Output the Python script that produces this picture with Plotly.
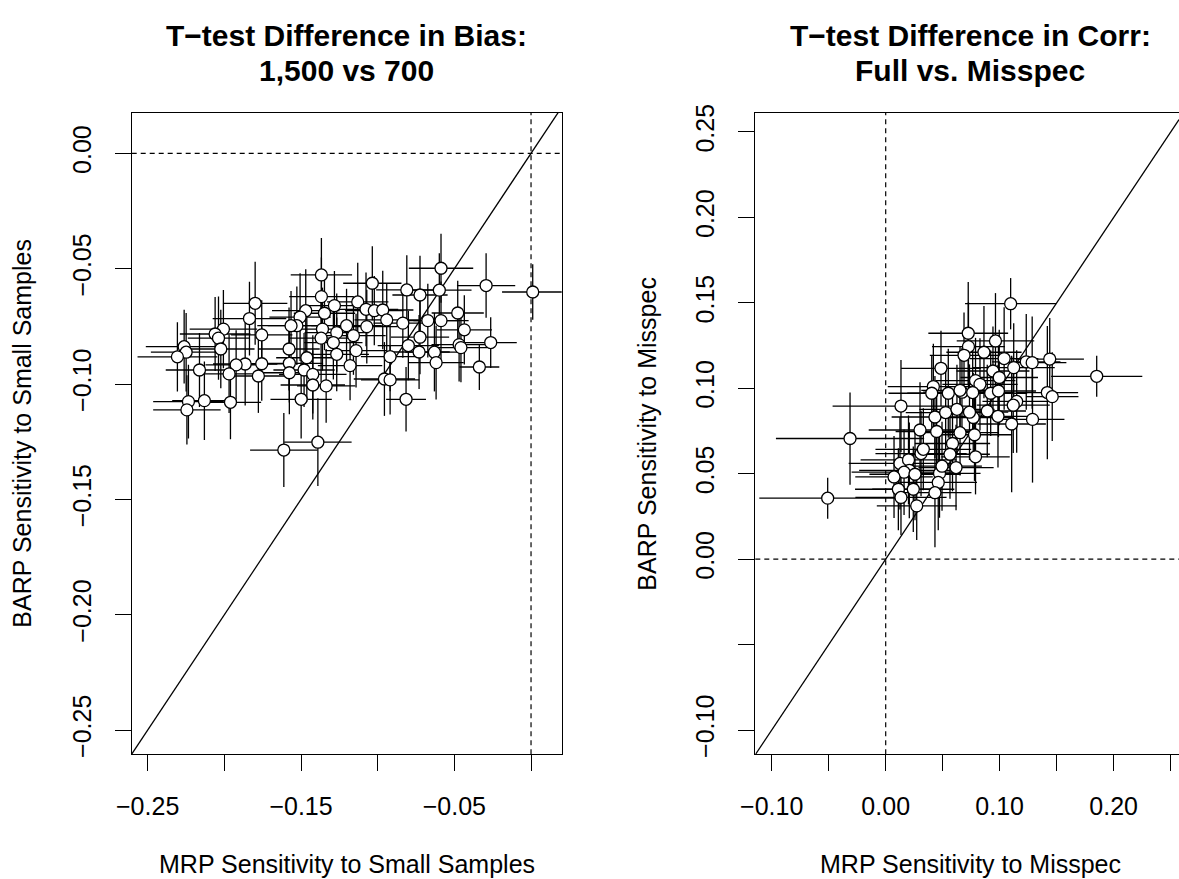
import plotly.graph_objects as go

# ---- Panel 1: T-test difference in bias, 1,500 vs 700 ----
bias_mrp = [
    -0.1367, -0.1367, -0.1282, -0.1469, -0.1347, -0.1799, -0.1836, -0.1506, -0.1527, -0.1565,
    -0.1203, -0.1360, -0.1267, -0.1756, -0.2006, -0.2060, -0.2038, -0.1369, -0.1289, -0.2023,
    -0.1578, -0.2262, -0.2249, -0.2306, -0.1267, -0.1462, -0.1576, -0.1756, -0.1864, -0.1923,
    -0.2162, -0.1969, -0.1778, -0.1576, -0.1480, -0.1423, -0.1423, -0.1336, -0.1499, -0.2234,
    -0.2244, -0.2130, -0.1960, -0.1612, -0.1390, -0.0587, -0.0293, 0.0011, -0.1035, -0.0810,
    -0.0724, -0.0598, -0.1130, -0.1076, -0.1022, -0.0967, -0.0941, -0.0836, -0.0673, -0.0587,
    -0.0478, -0.0435, -0.1071, -0.1158, -0.0724, -0.0800, -0.0469, -0.0457, -0.0263, -0.1141,
    -0.0919, -0.0730, -0.0630, -0.0619, -0.1180, -0.0337, -0.0956, -0.0919, -0.0815,
]
bias_barp = [
    -0.0527, -0.0621, -0.0660, -0.0682, -0.0693, -0.0650, -0.0716, -0.0710, -0.0747, -0.0747,
    -0.0747, -0.0762, -0.0777, -0.0787, -0.0762, -0.0783, -0.0801, -0.0801, -0.0820, -0.0848,
    -0.0848, -0.0838, -0.0862, -0.0882, -0.0871, -0.0886, -0.0910, -0.0912, -0.0913, -0.0917,
    -0.0939, -0.0956, -0.0965, -0.0951, -0.0939, -0.0958, -0.1004, -0.1008, -0.1066, -0.1076,
    -0.1112, -0.1072, -0.1079, -0.1286, -0.1252, -0.0498, -0.0573, -0.0601, -0.0563, -0.0592,
    -0.0614, -0.0593, -0.0644, -0.0676, -0.0682, -0.0679, -0.0722, -0.0736, -0.0725, -0.0725,
    -0.0692, -0.0765, -0.0751, -0.0790, -0.0797, -0.0833, -0.0829, -0.0842, -0.0820, -0.0855,
    -0.0881, -0.0861, -0.0862, -0.0907, -0.0920, -0.0926, -0.0978, -0.0982, -0.1066,
]
bias_mrp_err = [
    0.020, 0.021, 0.018, 0.022, 0.020, 0.021, 0.024, 0.020, 0.019, 0.022,
    0.023, 0.019, 0.021, 0.020, 0.022, 0.023, 0.020, 0.021, 0.019, 0.022,
    0.020, 0.025, 0.023, 0.026, 0.021, 0.020, 0.022, 0.019, 0.021, 0.020,
    0.022, 0.021, 0.020, 0.019, 0.020, 0.022, 0.021, 0.019, 0.020, 0.023,
    0.022, 0.021, 0.020, 0.022, 0.022, 0.021, 0.019, 0.020, 0.019, 0.020,
    0.018, 0.021, 0.020, 0.021, 0.019, 0.020, 0.021, 0.019, 0.020, 0.018,
    0.017, 0.018, 0.020, 0.021, 0.019, 0.020, 0.018, 0.017, 0.017, 0.020,
    0.019, 0.020, 0.019, 0.018, 0.021, 0.013, 0.020, 0.019, 0.013,
]
bias_barp_err = [
    0.016, 0.017, 0.015, 0.018, 0.016, 0.018, 0.016, 0.019, 0.017, 0.015,
    0.016, 0.018, 0.017, 0.015, 0.017, 0.016, 0.018, 0.019, 0.016, 0.017,
    0.018, 0.016, 0.017, 0.015, 0.016, 0.019, 0.017, 0.016, 0.018, 0.015,
    0.016, 0.017, 0.016, 0.018, 0.016, 0.017, 0.015, 0.016, 0.017, 0.016,
    0.015, 0.017, 0.016, 0.016, 0.019, 0.015, 0.014, 0.012, 0.016, 0.015,
    0.017, 0.016, 0.017, 0.016, 0.015, 0.017, 0.016, 0.015, 0.016, 0.017,
    0.014, 0.015, 0.016, 0.017, 0.016, 0.015, 0.016, 0.015, 0.011, 0.016,
    0.015, 0.016, 0.017, 0.016, 0.015, 0.010, 0.016, 0.015, 0.014,
]

# ---- Panel 2: T-test difference in correlation, full vs. misspecified ----
corr_mrp = [
    0.0485, 0.0418, 0.0404, 0.0549, 0.0134, -0.0313, -0.0509, 0.0432, 0.0526, 0.0625,
    0.0301, 0.0447, 0.0652, 0.0586, 0.0564, 0.0310, 0.0330, 0.0125, 0.0200, 0.0207,
    0.0161, 0.0257, 0.0073, 0.0472, 0.0461, 0.0617, 0.0111, 0.0242, 0.0134, 0.0432,
    0.0272, 0.1096, 0.0724, 0.0726, 0.0687, 0.0963, 0.0862, 0.1039, 0.1123, 0.1233,
    0.1285, 0.1439, 0.1851, 0.0941, 0.0996, 0.0788, 0.0827, 0.0669, 0.0763, 0.0921,
    0.0989, 0.1418, 0.1461, 0.1149, 0.1119, 0.0891, 0.0985, 0.0768, 0.0735, 0.1288,
    0.1105, 0.0779, 0.0788, 0.0652, 0.0494,
]
corr_barp = [
    0.1117, 0.1010, 0.0971, 0.0971, 0.0896, 0.0706, 0.0357, 0.0832, 0.0858, 0.0877,
    0.0756, 0.0747, 0.0740, 0.0677, 0.0614, 0.0618, 0.0643, 0.0560, 0.0581, 0.0520,
    0.0509, 0.0497, 0.0481, 0.0502, 0.0449, 0.0536, 0.0409, 0.0409, 0.0361, 0.0389,
    0.0312, 0.1495, 0.1322, 0.1244, 0.1193, 0.1277, 0.1211, 0.1174, 0.1121, 0.1155,
    0.1150, 0.1171, 0.1070, 0.1101, 0.1063, 0.1045, 0.1023, 0.0977, 0.0975, 0.0971,
    0.0984, 0.0975, 0.0951, 0.0923, 0.0901, 0.0867, 0.0836, 0.0829, 0.0860, 0.0818,
    0.0791, 0.0728, 0.0599, 0.0988, 0.0544,
]
corr_mrp_err = [
    0.035, 0.040, 0.038, 0.036, 0.060, 0.065, 0.060, 0.038, 0.035, 0.033,
    0.045, 0.036, 0.034, 0.033, 0.035, 0.040, 0.042, 0.045, 0.042, 0.044,
    0.046, 0.040, 0.034, 0.036, 0.034, 0.033, 0.038, 0.036, 0.040, 0.032,
    0.035, 0.040, 0.035, 0.032, 0.030, 0.034, 0.033, 0.030, 0.036, 0.030,
    0.030, 0.030, 0.040, 0.032, 0.034, 0.035, 0.033, 0.034, 0.036, 0.032,
    0.033, 0.027, 0.023, 0.030, 0.032, 0.034, 0.033, 0.035, 0.034, 0.028,
    0.030, 0.033, 0.030, 0.034, 0.035,
]
corr_barp_err = [
    0.022, 0.025, 0.022, 0.026, 0.027, 0.027, 0.012, 0.024, 0.025, 0.026,
    0.028, 0.024, 0.025, 0.028, 0.026, 0.025, 0.024, 0.027, 0.026, 0.028,
    0.025, 0.027, 0.024, 0.026, 0.028, 0.025, 0.024, 0.025, 0.022, 0.032,
    0.020, 0.015, 0.030, 0.026, 0.025, 0.028, 0.027, 0.030, 0.026, 0.028,
    0.027, 0.024, 0.012, 0.026, 0.028, 0.025, 0.027, 0.026, 0.028, 0.025,
    0.027, 0.039, 0.026, 0.030, 0.028, 0.027, 0.030, 0.026, 0.028, 0.037,
    0.040, 0.027, 0.022, 0.026, 0.026,
]

bias_ticks = [-0.25, -0.20, -0.15, -0.10, -0.05, 0.00]
bias_xtext = ["\u22120.25", "", "\u22120.15", "", "\u22120.05", ""]
bias_ytext = ["\u22120.25", "\u22120.20", "\u22120.15", "\u22120.10", "\u22120.05", "0.00"]
corr_ticks = [-0.10, -0.05, 0.00, 0.05, 0.10, 0.15, 0.20, 0.25]
corr_xtext = ["\u22120.10", "", "0.00", "", "0.10", "", "0.20", ""]
corr_ytext = ["\u22120.10", "", "0.00", "0.05", "0.10", "0.15", "0.20", "0.25"]

bias_xrange = [-0.2604, 0.0200]
bias_yrange = [-0.2605, 0.0175]
corr_xrange = [-0.1144, 0.2573]
corr_yrange = [-0.1142, 0.2611]

bias_title = ["T\u2212test Difference in Bias:", "1,500 vs 700"]
corr_title = ["T\u2212test Difference in Corr:", "Full vs. Misspec"]

FONT = "Liberation Sans, Arial, Helvetica, sans-serif"
INK = "black"
W, H = 1179, 879


def err(vals):
    return dict(type="data", array=vals, symmetric=True, color=INK,
                thickness=1.3, width=0)


marker = dict(size=12, color="white", line=dict(color=INK, width=1.3))

fig = go.Figure()
fig.add_trace(go.Scatter(
    x=bias_mrp, y=bias_barp, mode="markers", marker=marker,
    error_x=err(bias_mrp_err), error_y=err(bias_barp_err),
    xaxis="x", yaxis="y", showlegend=False, hoverinfo="skip"))
fig.add_trace(go.Scatter(
    x=corr_mrp, y=corr_barp, mode="markers", marker=marker,
    error_x=err(corr_mrp_err), error_y=err(corr_barp_err),
    xaxis="x2", yaxis="y2", showlegend=False, hoverinfo="skip"))

left_px = (131.7, 561.7)
right_px = (755.3, 1179.0)
top_px, bottom_px = 113.0, 754.3
ydom = [1 - bottom_px / H, 1 - top_px / H]

axis_common = dict(
    showline=True, linecolor=INK, linewidth=1.3,
    ticks="outside", ticklen=16, tickwidth=1.3, tickcolor=INK,
    showgrid=False, zeroline=False, automargin=False,
    tickfont=dict(family=FONT, size=25, color=INK),
)

fig.update_layout(
    width=W, height=H, autosize=False,
    margin=dict(l=0, r=0, t=0, b=0, autoexpand=False),
    paper_bgcolor="white", plot_bgcolor="white",
    xaxis=dict(domain=[left_px[0] / W, left_px[1] / W], range=bias_xrange,
               tickvals=bias_ticks, ticktext=bias_xtext, mirror=True,
               anchor="y", ticklabelstandoff=14, **axis_common),
    yaxis=dict(domain=ydom, range=bias_yrange, tickvals=bias_ticks,
               ticktext=bias_ytext, tickangle=-90, mirror=True,
               anchor="x", ticklabelstandoff=14, **axis_common),
    xaxis2=dict(domain=[right_px[0] / W, right_px[1] / W], range=corr_xrange,
                tickvals=corr_ticks, ticktext=corr_xtext, mirror=True,
                anchor="y2", ticklabelstandoff=14, **axis_common),
    yaxis2=dict(domain=ydom, range=corr_yrange, tickvals=corr_ticks,
                ticktext=corr_ytext, tickangle=-90, mirror=False,
                anchor="x2", ticklabelstandoff=14, **axis_common),
)

# reference lines: zero lines (dashed) and the 45-degree line
dash = "5px,4px"
shapes = []
for xa, ya, xr in (("x", "y", bias_xrange), ("x2", "y2", corr_xrange)):
    shapes.append(dict(type="line", xref=f"{xa} domain", yref=ya, x0=0, x1=1, y0=0, y1=0,
                       line=dict(color=INK, width=1.2, dash=dash), layer="below"))
    shapes.append(dict(type="line", xref=xa, yref=f"{ya} domain", x0=0, x1=0, y0=0, y1=1,
                       line=dict(color=INK, width=1.2, dash=dash), layer="below"))
    shapes.append(dict(type="line", xref=xa, yref=ya, x0=xr[0], y0=xr[0], x1=xr[1], y1=xr[1],
                       line=dict(color=INK, width=1.3), layer="below"))
fig.update_layout(shapes=shapes)

# titles and axis labels
cx_left = (left_px[0] + left_px[1]) / 2 / W
cx_right = (right_px[0] + 1185.0) / 2 / W
ymid = 1 - (top_px + bottom_px) / 2 / H
ann = []
for cx, lines in ((cx_left, bias_title), (cx_right, corr_title)):
    for line, ypx in zip(lines, (35, 70)):
        ann.append(dict(text=f"<b>{line}</b>", x=cx, y=1 - ypx / H, xref="paper", yref="paper",
                        showarrow=False, xanchor="center", yanchor="middle",
                        font=dict(family=FONT, size=30, color=INK)))
for cx, label in ((cx_left, "MRP Sensitivity to Small Samples"),
                  (cx_right, "MRP Sensitivity to Misspec")):
    ann.append(dict(text=label, x=cx, y=1 - 864 / H, xref="paper", yref="paper",
                    showarrow=False, xanchor="center", yanchor="middle",
                    font=dict(family=FONT, size=25, color=INK)))
for px, label in ((22, "BARP Sensitivity to Small Samples"),
                  (647, "BARP Sensitivity to Misspec")):
    ann.append(dict(text=label, x=px / W, y=ymid, xref="paper", yref="paper",
                    showarrow=False, xanchor="center", yanchor="middle", textangle=-90,
                    font=dict(family=FONT, size=25, color=INK)))
fig.update_layout(annotations=ann)

fig.write_html("out.html")
